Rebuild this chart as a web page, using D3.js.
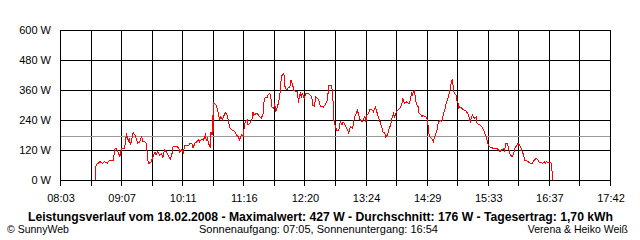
<!DOCTYPE html>
<html>
<head>
<meta charset="utf-8">
<script src="https://cdn.jsdelivr.net/npm/d3@7"></script>
<style>
html,body{margin:0;padding:0;background:#fff;}
svg{display:block;}
text{font-family:"Liberation Sans",Arial,sans-serif;}
</style>
</head>
<body>
<svg id="chart" width="640" height="240"></svg>
<script>
// Time stamps (HH:MM) of the power readings
const times = [
"08:40","08:40","08:41","08:45","08:48","08:50","08:53","08:55","08:59","09:01","09:02","09:04","09:06","09:08","09:11","09:12","09:13","09:15","09:16","09:17","09:18","09:20","09:22","09:23","09:25","09:27","09:28","09:29","09:30","09:32","09:34","09:35","09:36","09:37","09:39","09:41","09:43","09:44","09:46","09:48","09:50","09:51","09:53","09:55",
"09:59","10:01","10:02","10:06","10:08","10:09","10:11","10:13","10:14","10:16","10:18","10:20","10:22","10:23","10:25","10:27","10:29","10:30","10:32","10:34","10:36","10:37","10:38","10:40","10:41","10:42","10:43","10:44","10:45","10:45","10:47","10:48","10:49","10:50","10:51","10:52","10:54","10:55","10:56","10:57","10:59","11:00","11:02","11:04","11:05","11:07","11:09","11:11","11:12","11:14","11:16",
"11:17","11:18","11:20","11:21","11:23","11:25","11:26","11:27","11:30","11:32","11:33","11:35","11:37","11:38","11:41","11:42","11:44","11:45","11:46","11:48","11:49","11:50","11:52","11:54","11:55","11:56","11:58","11:59","12:00","12:02","12:03","12:05","12:06","12:08","12:09","12:11","12:13","12:14","12:15","12:16","12:17","12:18","12:20","12:22","12:24","12:26","12:28","12:29","12:31",
"12:32","12:34","12:36","12:37","12:38","12:40","12:42","12:44","12:45","12:46","12:49","12:50","12:51","12:51","12:52","12:54","12:56","12:57","12:58","13:00","13:01","13:03","13:05","13:07","13:08","13:09","13:11","13:12","13:13","13:14","13:15","13:16","13:18","13:19","13:21","13:22","13:24","13:25","13:26","13:28","13:29","13:31","13:33","13:34","13:35","13:37","13:38","13:40","13:42","13:43","13:45","13:46","13:48","13:49","13:51","13:52","13:54",
"13:55","13:56","13:57","13:59","14:01","14:03","14:04","14:05","14:06","14:08","14:10","14:11","14:13","14:14","14:16","14:17","14:18","14:20","14:21","14:23","14:24","14:25","14:27","14:28","14:30","14:31","14:32","14:34","14:36","14:38","14:40","14:41","14:43","14:45","14:46","14:47","14:48","14:50","14:52","14:53","14:54","14:55","14:56","14:57","14:58","15:00","15:01","15:02","15:03","15:04","15:06","15:08",
"15:09","15:11","15:13","15:15","15:16","15:17","15:19","15:21","15:22","15:25","15:27","15:29","15:30","15:32","15:33","15:35","15:39","15:43","15:46","15:48","15:50","15:51","15:52","15:54","15:56","15:57","15:59","16:00","16:02","16:04","16:05","16:07","16:09","16:11","16:12","16:16","16:18","16:20","16:21","16:24","16:26","16:27","16:31","16:33","16:34","16:35","16:39","16:40","16:41","16:42"
];
// Power in W at each time stamp
const watts = [
0,27,60,73,67,73,67,80,80,127,127,113,93,127,127,153,187,153,167,140,153,189,180,167,147,153,167,173,153,153,147,93,67,67,73,93,113,100,113,100,107,87,120,113,
83,107,133,136,127,113,120,109,136,140,136,147,144,127,147,153,160,153,163,160,180,160,167,140,133,193,180,260,193,307,303,293,280,260,240,253,240,253,260,269,260,240,207,200,200,193,180,171,160,180,176,
213,233,240,220,229,240,273,260,267,260,253,247,267,327,331,340,347,327,293,287,307,273,293,327,360,413,427,420,367,360,367,373,400,380,360,353,353,307,333,347,333,347,327,347,347,340,333,300,293,
333,327,313,293,296,291,300,313,340,380,380,333,293,247,227,200,200,207,233,220,233,220,207,187,207,213,207,227,253,260,267,280,253,240,233,240,253,233,260,267,283,283,273,283,291,267,253,233,207,193,187,173,180,200,220,240,267,
253,260,273,280,287,307,327,313,307,313,307,307,347,340,360,333,307,293,267,260,253,260,253,253,240,193,173,167,153,180,200,227,240,233,253,267,280,313,333,353,367,393,400,373,347,340,313,307,287,293,287,280,
280,273,260,233,247,260,247,253,227,220,213,200,187,173,147,133,127,127,113,120,127,113,147,147,113,100,93,100,127,140,147,140,120,100,80,73,67,67,73,87,80,73,67,73,67,73,69,67,33,0
];
const yTicks = [0, 120, 240, 360, 480, 600];
const xTickLabels = ["08:03","09:07","10:11","11:16","12:20","13:24","14:29","15:33","16:37","17:42"];
const average = 176;
const title = "Leistungsverlauf vom 18.02.2008 - Maximalwert: 427 W - Durchschnitt: 176 W - Tagesertrag: 1,70 kWh";
const footerLeft = "\u00A9 SunnyWeb";
const footerCenter = "Sonnenaufgang: 07:05, Sonnenuntergang: 16:54";
const footerRight = "Verena & Heiko Wei\u00DF";

const toMin = s => { const [h, m] = s.split(":").map(Number); return h * 60 + m; };
const data = times.map((t, i) => ({ t: toMin(t), w: watts[i] }));

const svg = d3.select("#chart");
const L = 60, R = 610, T = 30, B = 180;
const tStart = toMin(xTickLabels[0]), tEnd = toMin(xTickLabels[xTickLabels.length - 1]);
const x = d3.scaleLinear().domain([tStart, tEnd]).range([L, R]);
const y = d3.scaleLinear().domain([0, 600]).range([B, T]);

// gridline positions: 18 intervals, labels on every second
const nInt = 18;
const gridT = d3.range(nInt + 1).map(i => tStart + i * (tEnd - tStart) / nInt);

const g = svg.append("g").attr("shape-rendering", "crispEdges");
// horizontal grid
g.selectAll("line.h").data(yTicks).join("line")
  .attr("x1", L).attr("x2", R)
  .attr("y1", d => Math.round(y(d)) + 0.5).attr("y2", d => Math.round(y(d)) + 0.5)
  .attr("stroke", "#000").attr("stroke-width", 1);
// vertical grid + ticks
g.selectAll("line.v").data(gridT).join("line")
  .attr("x1", d => Math.round(x(d)) + 0.5).attr("x2", d => Math.round(x(d)) + 0.5)
  .attr("y1", T).attr("y2", B + 6)
  .attr("stroke", "#000").attr("stroke-width", 1);

// average line
g.append("line")
  .attr("x1", L + 1).attr("x2", R)
  .attr("y1", Math.round(y(average)) + 0.5).attr("y2", Math.round(y(average)) + 0.5)
  .attr("stroke", "#999999").attr("stroke-width", 1);

// y labels
svg.selectAll("text.yl").data(yTicks).join("text")
  .attr("x", 51).attr("y", d => y(d) + 4)
  .attr("text-anchor", "end").attr("font-size", 11).attr("fill", "#000")
  .text(d => d + " W");

// x labels
svg.selectAll("text.xl").data(xTickLabels).join("text")
  .attr("x", (d, i) => x(gridT[i * 2]) + 1).attr("y", 201.5)
  .attr("text-anchor", "middle").attr("font-size", 11).attr("fill", "#000")
  .text(d => d);

// power line
const line = d3.line().x(d => x(d.t)).y(d => y(d.w));
svg.append("path").datum(data)
  .attr("d", line).attr("fill", "none")
  .attr("stroke", "#ff0000").attr("stroke-width", 1)
  .attr("shape-rendering", "crispEdges");

// title
svg.append("text").attr("x", 320.5).attr("y", 220.5)
  .attr("text-anchor", "middle").attr("font-size", 12).attr("font-weight", "bold")
  .attr("textLength", 585).attr("lengthAdjust", "spacingAndGlyphs")
  .text(title);
svg.append("text").attr("x", 7).attr("y", 232.5).attr("font-size", 10.5).text(footerLeft);
svg.append("text").attr("x", 318.5).attr("y", 232.5).attr("text-anchor", "middle").attr("font-size", 10.5)
  .attr("textLength", 239).attr("lengthAdjust", "spacingAndGlyphs").text(footerCenter);
svg.append("text").attr("x", 628).attr("y", 232.5).attr("text-anchor", "end").attr("font-size", 10.5).text(footerRight);
</script>
</body>
</html>
